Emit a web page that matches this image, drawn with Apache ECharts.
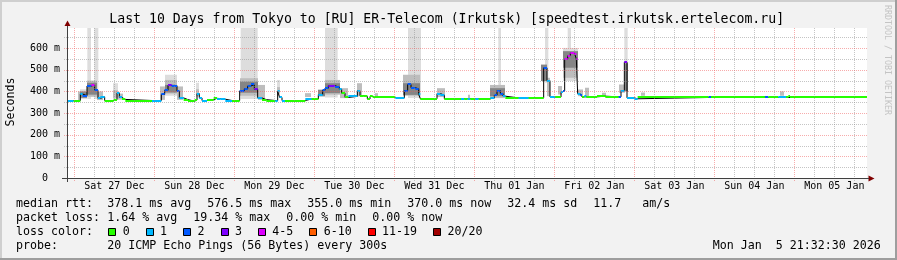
<!DOCTYPE html>
<html><head><meta charset="utf-8">
<script src="https://cdn.jsdelivr.net/npm/echarts@6/dist/echarts.min.js"></script>
<style>html,body{margin:0;padding:0;background:#f2f2f2}#c{width:897px;height:260px}</style>
</head><body><div id="c"></div>
<script>
// x values: hours since Sat 27 Dec 00:00
const xMin = -2.2, xMax = 237.8, yMax = 693;
const dayLabels = ['Sat 27 Dec','Sun 28 Dec','Mon 29 Dec','Tue 30 Dec','Wed 31 Dec','Thu 01 Jan','Fri 02 Jan','Sat 03 Jan','Sun 04 Jan','Mon 05 Jan'];
const dayLabelHours = [12,36,60,84,108,132,156,180,204,228];
const yMajorTicks = [100,200,300,400,500,600];
const yMinorTicks = [50,150,250,350,450,550,650];

// median rtt (ms) as step segments: start hour, value, loss class
const medStart = [-2.2,-0.2,1.8,2.5,3.8,5.1,6.1,7.1,7.8,9.1,11.8,12.8,13.5,14.3,15.3,23.3,26.1,27.1,28.1,29.2,30.8,31.5,32.8,34.1,36.1,36.8,37.5,38.3,39.8,41.8,42.8,43.8,45.3,47.3,49.6,51.0,52.0,53.0,54.0,55.0,56.3,57.6,60.3,61.0,61.6,62.3,63.2,69.3,71.2,73.2,74.5,75.2,76.2,78.2,79.5,80.2,81.2,82.2,84.9,85.7,86.7,87.9,88.7,89.5,96.3,99.0,100.0,101.0,102.3,103.3,103.8,108.8,109.8,111.0,116.0,117.0,118.0,118.8,120.3,121.3,124.8,126.0,126.8,127.8,128.6,129.3,133.3,136.3,140.8,141.8,142.7,144.3,146.0,146.6,147.1,148.0,148.8,150.0,150.6,151.0,151.8,152.3,153.0,153.6,156.8,159.3,163.3,164.0,165.0,165.8,168.0,169.0,190.3,191.0,207.2,208.2,211.2,213.5,214.2,214.7];
const medValue = [358,358,388,380,425,430,405,368,375,358,362,393,372,363,358,358,386,405,428,427,401,370,362,355,360,390,370,358,362,368,367,364,358,358,402,412,425,432,410,370,362,358,358,400,372,358,358,365,365,385,405,415,426,420,410,392,372,377,403,380,377,365,377,372,370,404,432,417,412,386,366,390,383,366,366,366,366,366,366,366,370,383,404,390,378,370,370,370,509,450,374,374,396,402,549,565,578,572,550,389,383,375,380,375,378,375,375,404,535,370,366,372,372,372,372,372,372,372,380,372];
const medLoss = [1,0,1,2,2,4,2,1,1,0,0,1,1,0,0,1,2,2,3,2,2,1,0,0,0,1,1,1,0,0,1,1,1,0,2,2,2,2,3,1,0,0,1,1,1,1,0,1,0,1,2,2,3,2,1,0,0,1,1,0,0,0,0,0,1,2,2,2,2,1,0,1,1,0,1,0,1,0,1,0,1,2,2,2,1,0,1,0,2,1,1,0,1,2,4,4,4,4,4,1,2,0,1,0,0,0,2,1,3,1,1,0,2,0,2,0,1,0,0,0];

// smoke (ping spread) blocks: start hour, end hour, low ms, high ms, shade 1..3
const smokeStart = [3.9,6.0,49.9,75.2,100.1,127.2,141.2,148.0,165.0, 1.1,1.7,1.7,3.8,3.8,6.8,11.6,11.6,13.1,25.7,27.2,27.2,27.2,30.8,36.5,36.5,49.7,49.7,55.1,60.8,60.8,69.2,73.1,75.2,75.2,79.7,84.8,90.2,98.6,98.6,108.8,118.1,124.7,124.7,140.0,141.8,145.1,146.6,146.6,146.6,151.1,153.2,158.3,163.4,165.2,170.0,211.7];
const smokeEnd   = [5.0,7.2,55.0,79.0,104.0,128.0,142.2,149.0,166.0, 1.7,3.8,3.8,6.8,6.8,8.6,13.1,13.1,14.6,27.2,30.8,30.8,30.8,32.6,37.4,37.4,55.1,55.1,57.2,61.7,61.7,71.0,75.2,79.7,79.7,82.1,86.3,91.1,103.7,103.7,111.2,118.7,129.2,129.2,141.8,142.7,146.3,151.1,151.1,151.1,152.6,154.4,159.5,165.2,166.1,171.2,212.9];
const smokeLo    = [365,365,365,372,370,380,440,560,400, 360,365,370,375,385,360,362,370,362,361,380,390,395,361,375,380,380,394,361,380,390,374,377,385,392,369,377,374,380,384,374,370,369,378,448,378,386,448,463,509,378,378,377,394,400,380,380];
const smokeHi    = [693,693,693,693,693,693,693,693,693, 400,410,400,450,440,400,438,405,390,423,477,453,430,423,440,410,461,445,430,453,420,392,408,453,438,415,438,392,477,438,415,385,430,415,524,463,425,601,509,586,409,417,394,432,530,395,400];
const smokeShade = [1,1,1,1,1,1,1,1,1, 2,1,3,2,3,2,1,2,2,2,1,2,3,2,1,2,2,3,2,1,2,2,3,2,3,2,2,2,2,3,2,2,2,3,3,2,2,1,2,3,2,2,2,2,3,2,2];

const lossColors = ['#26ff00','#00b8ff','#0059ff','#7e00ff','#dd00ff','#ff5e00','#ff0000','#a10000'];
const lossLabels = ['0','1','2','3','4-5','6-10','11-19','20/20'];
const shadeColors = {1:'#dddddd', 2:'#bdbdbd', 3:'#858585'};

const FONT = '"DejaVu Sans Mono", monospace';
const chart = echarts.init(document.getElementById('c'), null, {renderer:'canvas'});

// dotted patterns for grid lines
function dotPattern(color, horizontal) {
  const c = document.createElement('canvas');
  c.width = horizontal ? 2 : 1; c.height = horizontal ? 1 : 2;
  const ctx = c.getContext('2d');
  ctx.fillStyle = color; ctx.fillRect(0, 0, 1, 1);
  return {image: c, repeat: 'repeat'};
}
const MAJ = 'rgba(240,90,90,0.5)', MIN = 'rgba(140,140,140,0.5)';
const patMajorH = dotPattern(MAJ, true), patMajorV = dotPattern(MAJ, false);
const patMinorH = dotPattern(MIN, true), patMinorV = dotPattern(MIN, false);

// grid line list
const gridLines = [];
for (let h = 0; h <= 234; h += 6) gridLines.push({dir:'v', v:h, major: h % 24 === 0});
yMinorTicks.forEach(v => gridLines.push({dir:'h', v:v, major:false}));
yMajorTicks.forEach(v => gridLines.push({dir:'h', v:v, major:true}));

const smokeOrder = smokeStart.map((_, i) => i).sort((a, b) => smokeShade[a] - smokeShade[b]);

const stepData = medStart.map((h, i) => [h, medValue[i]]);
stepData.push([xMax, medValue[medValue.length - 1]]);

const gfx = [];
function txt(s, x, y, opts) {
  gfx.push({type:'text', silent:true, z:100, style:Object.assign({text:s, x:x, y:y, font:'11.63px ' + FONT, fill:'#000', textVerticalAlign:'middle'}, opts || {})});
}
// frame
gfx.push({type:'rect', silent:true, shape:{x:0, y:0, width:897, height:2}, style:{fill:'#cfcfcf'}});
gfx.push({type:'rect', silent:true, shape:{x:0, y:0, width:2, height:260}, style:{fill:'#cfcfcf'}});
gfx.push({type:'rect', silent:true, shape:{x:0, y:258, width:897, height:2}, style:{fill:'#9e9e9e'}});
gfx.push({type:'rect', silent:true, shape:{x:895, y:0, width:2, height:260}, style:{fill:'#9e9e9e'}});
// title
txt('Last 10 Days from Tokyo to [RU] ER-Telecom (Irkutsk) [speedtest.irkutsk.ertelecom.ru]', 446.7, 19.5, {font:'13.2px ' + FONT, textAlign:'center'});
// y axis name
gfx.push({type:'text', silent:true, x:11, y:102, rotation:Math.PI/2, style:{text:'Seconds', font:'11.63px ' + FONT, fill:'#000', textAlign:'center', textVerticalAlign:'middle'}});
// watermark
gfx.push({type:'text', silent:true, x:887.5, y:60, rotation:-Math.PI/2, style:{text:'RRDTOOL / TOBI OETIKER', font:'8.3px ' + FONT, fill:'#c4c4c4', textAlign:'center', textVerticalAlign:'middle'}});
// legend lines
txt('median rtt:', 16, 204.3);
txt('378.1 ms avg', 107.3, 204.3);
txt('576.5 ms max', 207.3, 204.3);
txt('355.0 ms min', 307.3, 204.3);
txt('370.0 ms now', 407.3, 204.3);
txt('32.4 ms sd', 507.3, 204.3);
txt('11.7', 593.3, 204.3);
txt('am/s', 642.3, 204.3);
txt('packet loss:', 16, 218.3);
txt('1.64 % avg', 107.3, 218.3);
txt('19.34 % max', 193.3, 218.3);
txt('0.00 % min', 286.3, 218.3);
txt('0.00 % now', 372.3, 218.3);
txt('loss color:', 16, 232.3);
const boxX = [108.3,145.7,183.1,220.5,257.9,309.3,367.7,433.1];
boxX.forEach((bx, i) => {
  gfx.push({type:'rect', silent:true, shape:{x:Math.round(bx) + 0.5, y:228.5, width:7, height:7}, style:{fill:lossColors[i], stroke:'#000', lineWidth:1}});
  txt(lossLabels[i], bx + 14.4, 232.3);
});
txt('probe:', 16, 246.3);
txt('20 ICMP Echo Pings (56 Bytes) every 300s', 107.3, 246.3);
txt('Mon Jan  5 21:32:30 2026', 880.7, 246.3, {textAlign:'right'});
// axis arrows and extensions
const AX = '#404040', ARROW = '#800000';
gfx.push({type:'line', silent:true, z:50, shape:{x1:67.5, y1:28, x2:67.5, y2:25}, style:{stroke:AX, lineWidth:1}});
gfx.push({type:'line', silent:true, z:50, shape:{x1:62, y1:178.5, x2:67, y2:178.5}, style:{stroke:AX, lineWidth:1}});
gfx.push({type:'line', silent:true, z:50, shape:{x1:67.5, y1:178, x2:67.5, y2:182}, style:{stroke:AX, lineWidth:1}});
gfx.push({type:'polygon', silent:true, z:50, shape:{points:[[67.5,20.5],[64.5,26],[70.5,26]]}, style:{fill:ARROW}});
gfx.push({type:'polygon', silent:true, z:50, shape:{points:[[874.5,178.5],[868.5,175.5],[868.5,181.5]]}, style:{fill:ARROW}});
gfx.push({type:'line', silent:true, z:50, shape:{x1:867, y1:178.5, x2:869, y2:178.5}, style:{stroke:AX, lineWidth:1}});

const option = {
  backgroundColor: '#f2f2f2',
  animation: false,
  grid: {left:67, right:30, top:28, bottom:82, show:true, backgroundColor:'#ffffff', borderWidth:0},
  xAxis: {
    type:'value', min:xMin, max:xMax, z:10,
    axisLine:{show:true, onZero:false, lineStyle:{color:AX, width:1}},
    axisTick:{show:false}, splitLine:{show:false}, minorSplitLine:{show:false},
    axisLabel:{customValues: dayLabelHours, formatter: v => dayLabels[dayLabelHours.indexOf(Math.round(v))] || '',
      fontFamily:FONT, fontSize:10, color:'#000', margin:3}
  },
  yAxis: {
    type:'value', min:0, max:yMax, interval:50, z:10,
    axisLine:{show:true, onZero:false, lineStyle:{color:AX, width:1}},
    axisTick:{show:false}, splitLine:{show:false}, minorSplitLine:{show:false},
    axisLabel:{fontFamily:FONT, fontSize:10, color:'#000', margin:7, showMaxLabel:false,
      formatter: v => (v === 0 ? '0  ' : (v % 100 === 0 ? v + ' m' : ''))}
  },
  series: [
    { // smoke
      type:'custom', z:2, silent:true, clip:true,
      data: smokeOrder.map(i => [smokeStart[i], smokeLo[i]]),
      renderItem: function (params, api) {
        const i = smokeOrder[params.dataIndex];
        const a = api.coord([smokeStart[i], smokeHi[i]]);
        const b = api.coord([smokeEnd[i], smokeLo[i]]);
        return {type:'rect', shape:{x:a[0], y:a[1], width:b[0] - a[0], height:b[1] - a[1]},
          style:{fill: shadeColors[smokeShade[i]]}};
      }
    },
    { // median connecting step line
      type:'line', z:3, step:'end', symbol:'none', silent:true,
      data: stepData,
      lineStyle:{color:'#000', width:1}
    },
    { // median colored by loss
      type:'custom', z:4, silent:true,
      data: medStart.map((h, i) => [h, medValue[i]]),
      renderItem: function (params, api) {
        const i = params.dataIndex;
        const h1 = i + 1 < medStart.length ? medStart[i + 1] : xMax;
        const a = api.coord([medStart[i], medValue[i]]);
        const b = api.coord([h1, medValue[i]]);
        const y = Math.round(a[1]);
        return {type:'rect', shape:{x:a[0], y:y - 1, width:b[0] - a[0], height:2},
          style:{fill: lossColors[medLoss[i]]}};
      }
    },
    { // grid lines, dotted, painted over the data like rrdtool
      type:'custom', z:5, silent:true, clip:false,
      data: gridLines.map((g, i) => [i, 0]),
      renderItem: function (params, api) {
        const g = gridLines[params.dataIndex];
        if (g.dir === 'v') {
          const p1 = api.coord([g.v, 0]), p2 = api.coord([g.v, yMax]);
          const x = Math.round(p1[0]);
          return {type:'rect', shape:{x:x, y:Math.round(p2[1]), width:1, height:Math.round(p1[1]) - Math.round(p2[1]) + 3},
            style:{fill: g.major ? patMajorV : patMinorV}};
        }
        const p1 = api.coord([xMin, g.v]), p2 = api.coord([xMax, g.v]);
        const y = Math.round(p1[1]);
        return {type:'rect', shape:{x:Math.round(p1[0]) - 3, y:y, width:Math.round(p2[0] - p1[0]) + 3, height:1},
          style:{fill: g.major ? patMajorH : patMinorH}};
      }
    }
  ],
  graphic: gfx
};
chart.setOption(option);
</script>
</body></html>
